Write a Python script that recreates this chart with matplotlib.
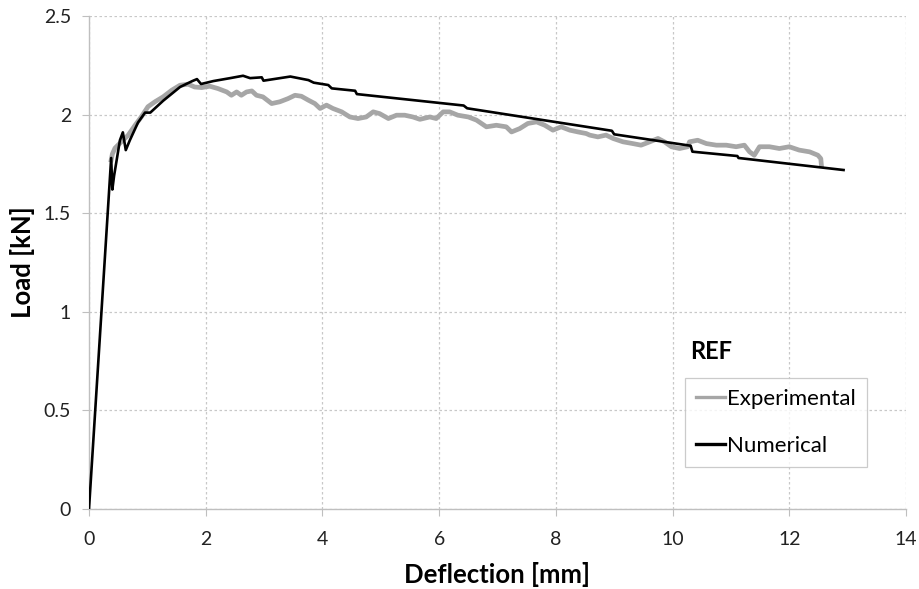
import matplotlib
matplotlib.use("Agg")
import matplotlib.pyplot as plt

# Numerical curve
num_x = [0, 0.38, 0.40, 0.43, 0.53, 0.58, 0.63, 0.70, 0.84, 0.96, 1.05, 1.27, 1.56, 1.77,
         1.85, 1.92, 2.13, 2.42, 2.64, 2.76, 2.96, 2.99, 3.45, 3.76, 3.85, 4.10, 4.16, 4.56,
         4.59, 6.42, 6.48, 8.96, 9.00, 10.31, 10.34, 11.11, 11.13, 12.93]
num_y = [0, 1.78, 1.62, 1.69, 1.87, 1.91, 1.82, 1.87, 1.96, 2.01, 2.01, 2.07, 2.14, 2.17,
         2.18, 2.155, 2.17, 2.185, 2.197, 2.185, 2.189, 2.172, 2.193, 2.175, 2.162, 2.15, 2.133, 2.121,
         2.104, 2.046, 2.032, 1.918, 1.90, 1.842, 1.812, 1.79, 1.78, 1.719]

# Experimental curve (rising part is hidden under the numerical line)
exp_x = [0.38, 0.40, 0.445, 0.53, 0.67, 0.79, 0.90, 1.01, 1.13, 1.27, 1.42, 1.56, 1.70,
         1.81, 1.93, 2.07, 2.21, 2.36, 2.44, 2.53, 2.61, 2.70, 2.79, 2.87, 2.98, 3.13, 3.27,
         3.41, 3.53, 3.64, 3.76, 3.87, 3.96, 4.07, 4.18, 4.33, 4.47, 4.61, 4.75, 4.87, 4.98,
         5.13, 5.27, 5.41, 5.55, 5.67, 5.84, 5.95, 6.07, 6.18, 6.32, 6.50, 6.64, 6.81, 6.98,
         7.15, 7.24, 7.38, 7.52, 7.67, 7.81, 7.95, 8.09, 8.24, 8.38, 8.52, 8.58, 8.72, 8.86,
         8.98, 9.15, 9.32, 9.46, 9.61, 9.75, 9.86, 9.98, 10.12, 10.26, 10.29, 10.43, 10.58,
         10.75, 10.92, 11.09, 11.23, 11.32, 11.40, 11.49, 11.66, 11.83, 12.00, 12.17, 12.35,
         12.49, 12.54, 12.55]
exp_y = [1.77, 1.80, 1.83, 1.855, 1.895, 1.946, 1.99, 2.04, 2.065, 2.09, 2.124, 2.149, 2.154,
         2.14, 2.137, 2.144, 2.132, 2.115, 2.098, 2.115, 2.098, 2.115, 2.12, 2.098, 2.09, 2.056, 2.065,
         2.081, 2.098, 2.093, 2.073, 2.056, 2.031, 2.048, 2.031, 2.014, 1.988, 1.980, 1.988, 2.014, 2.005,
         1.980, 1.997, 1.997, 1.988, 1.976, 1.988, 1.98, 2.014, 2.014, 1.997, 1.988, 1.972, 1.938, 1.946,
         1.938, 1.912, 1.929, 1.955, 1.963, 1.946, 1.921, 1.938, 1.921, 1.912, 1.904, 1.896, 1.887, 1.896,
         1.879, 1.862, 1.853, 1.845, 1.862, 1.879, 1.862, 1.837, 1.828, 1.837, 1.862, 1.870, 1.853,
         1.845, 1.845, 1.837, 1.845, 1.811, 1.794, 1.837, 1.837, 1.828, 1.837, 1.82, 1.811,
         1.794, 1.777, 1.744]

x_ticks = [0, 2, 4, 6, 8, 10, 12, 14]
y_ticks = [0, 0.5, 1, 1.5, 2, 2.5]
y_tick_labels = ["0", "0.5", "1", "1.5", "2", "2.5"]

plt.rcParams['font.family'] = ['Lato', 'DejaVu Sans']

fig = plt.figure(figsize=(9.19, 5.89), dpi=100)
ax = fig.add_axes([89/919, 1-509/589, (906-89)/919, (509-16)/589])

grid_c = '#c8c8c8'
ax.set_xlim(0, 14)
ax.set_ylim(0, 2.5)
ax.set_xticks(x_ticks)
ax.set_yticks(y_ticks)
ax.set_yticklabels(y_tick_labels)
ax.grid(True, color=grid_c, linestyle=(0, (2, 2)), linewidth=0.9)
ax.set_axisbelow(True)
for s in ['top', 'right']:
    ax.spines[s].set_visible(False)
for s in ['left', 'bottom']:
    ax.spines[s].set_color('#bfbfbf')
    ax.spines[s].set_linewidth(1.0)
ax.tick_params(axis='both', direction='out', length=5, color='#bfbfbf', labelsize=14,
               labelcolor='#222222')
ax.tick_params(axis='x', pad=11)
ax.tick_params(axis='y', pad=8)

l1, = ax.plot(exp_x, exp_y, color='#a6a6a6', linewidth=3.4, solid_joinstyle='round',
              label='Experimental', zorder=3)
l2, = ax.plot(num_x, num_y, color='black', linewidth=1.9, label='Numerical', zorder=4)

ax.set_xlabel('Deflection [mm]', fontsize=18.5, fontweight='bold', labelpad=10)
ax.set_ylabel('Load [kN]', fontsize=18.5, fontweight='bold', labelpad=6)

leg = ax.legend(handles=[l1, l2], loc='upper left',
                bbox_to_anchor=(685/919, 1-378/589), bbox_transform=fig.transFigure,
                fontsize=16, frameon=True, fancybox=False, edgecolor='#bfbfbf',
                handlelength=1.3, handletextpad=0.1, labelspacing=1.2,
                borderpad=0.5, borderaxespad=0)
leg.get_frame().set_linewidth(0.9)
for h in leg.legend_handles:
    h.set_linewidth(2.4)

fig.text(690/919, 1-359/589, 'REF', fontsize=17, fontweight='bold', ha='left', va='baseline')

fig.savefig('out.png', dpi=100)
